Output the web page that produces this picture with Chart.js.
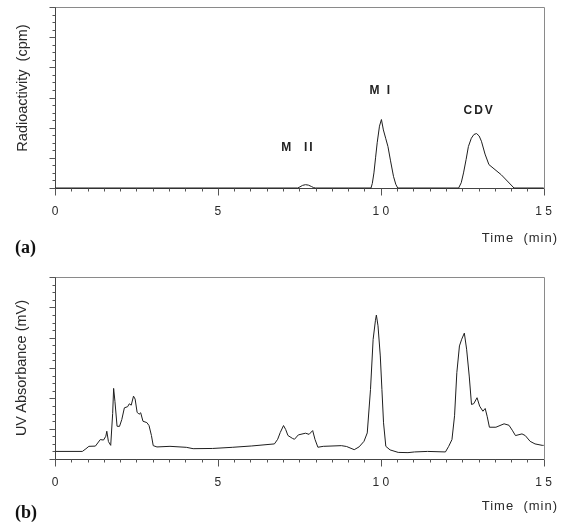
<!DOCTYPE html>
<html><head><meta charset="utf-8">
<script src="https://cdn.jsdelivr.net/npm/chart.js@4.4.1/dist/chart.umd.min.js"></script>
<style>
html,body{margin:0;padding:0;background:#fff}
#page{position:relative;width:568px;height:522px;overflow:hidden;background:#fff}
canvas{position:absolute;left:0}
.t{position:absolute;font-family:"Liberation Sans",Arial,Helvetica,sans-serif;color:#2a2a2a;white-space:pre;line-height:18px;height:18px}
.yt{width:220px;text-align:center;font-size:14.5px;transform:rotate(-90deg)}
.xt{font-size:13px;letter-spacing:1px;text-align:right}
.pl{position:absolute;font-family:"Liberation Serif","Times New Roman",serif;font-weight:bold;font-size:18px;line-height:22px;color:#111}
</style></head><body>
<div id="page">
<canvas id="cA" width="568" height="260" style="top:0"></canvas>
<canvas id="cB" width="568" height="262" style="top:260px"></canvas>
<div class="t yt" style="left:-88px;top:79px">Radioactivity  (cpm)</div>
<div class="t yt" style="left:-89px;top:359px">UV Absorbance (mV)</div>
<div class="t xt" style="right:10px;top:229px">Time  (min)</div>
<div class="t xt" style="right:10px;top:497px">Time  (min)</div>
<div class="pl" style="left:15px;top:236px">(a)</div>
<div class="pl" style="left:15px;top:501px">(b)</div>
</div>
<script>
// ---- Data: panel (a) radioactivity trace (arbitrary units) ----
const timesA = [0, 7.45, 7.52, 7.6, 7.69, 7.78, 7.87, 7.94, 8.0,
  9.7, 9.74, 9.79, 9.84, 9.89, 9.96, 10.02, 10.08, 10.15, 10.22, 10.3, 10.39, 10.46, 10.52,
  12.39, 12.47, 12.54, 12.62, 12.69, 12.78, 12.86, 12.94, 13.02, 13.09, 13.2, 13.32, 13.7, 14.09, 15];
const radioactivity = [0, 0, 0.15, 0.35, 0.44, 0.38, 0.2, 0.05, 0,
  0, 0.6, 2.0, 4.0, 6.0, 8.2, 9.08, 7.7, 6.6, 5.5, 3.6, 1.55, 0.5, 0,
  0, 0.7, 2.0, 3.8, 5.5, 6.6, 7.1, 7.22, 6.9, 6.2, 4.5, 3.1, 1.75, 0, 0];

// ---- Data: panel (b) UV absorbance trace (arbitrary units) ----
const timesB = [0.0, 0.84, 0.95, 1.04, 1.24, 1.39, 1.49, 1.56, 1.59, 1.64, 1.71, 1.77, 1.80, 1.84, 1.905,
  1.98, 2.05, 2.13, 2.23, 2.28, 2.34, 2.41, 2.46, 2.52, 2.58, 2.63, 2.70, 2.82, 2.886, 2.96, 3.015,
  3.13, 3.53, 4.03, 4.24, 4.84, 5.44, 6.04, 6.735, 6.835, 6.915, 7.015, 7.08, 7.15, 7.285, 7.35,
  7.47, 7.69, 7.8, 7.91, 7.98, 8.07, 8.235, 8.79, 8.95, 9.185, 9.335, 9.485, 9.585, 9.685, 9.765,
  9.835, 9.865, 9.915, 9.985, 10.035, 10.085, 10.155, 10.285, 10.535, 10.835, 11.035, 11.435, 11.985,
  12.085, 12.185, 12.265, 12.335, 12.415, 12.485, 12.565, 12.635, 12.715, 12.785, 12.855, 12.955,
  13.035, 13.135, 13.205, 13.265, 13.335, 13.535, 13.785, 13.935, 14.035, 14.135, 14.335, 14.435,
  14.585, 14.735, 14.955, 15.0];
const uvAbsorbance = [1.0, 1.0, 1.35, 1.67, 1.7, 2.56, 2.5, 3.0, 3.66, 2.3, 1.8, 6.0, 9.31, 7.6, 4.32,
  4.3, 5.2, 6.75, 6.9, 7.28, 7.1, 8.29, 7.9, 6.17, 5.9, 6.1, 4.98, 4.8, 4.41, 3.1, 1.76,
  1.59, 1.67, 1.54, 1.36, 1.39, 1.54, 1.72, 1.99, 2.6, 3.5, 4.41, 3.9, 3.1, 2.73, 2.6,
  3.18, 3.4, 3.25, 3.75, 2.6, 1.55, 1.67, 1.76, 1.65, 1.23, 1.6, 2.33, 3.44, 9.18, 15.76,
  18.23, 18.98, 17.56, 13.59, 9.18, 4.77, 1.67, 1.2, 0.87, 0.84, 0.93, 1.0, 0.93,
  1.67, 2.56, 5.7, 11.39, 14.91, 15.8, 16.6, 14.48, 10.94, 7.19, 7.3, 8.08,
  6.97, 6.3, 6.66, 5.64, 4.19, 4.19, 4.64, 4.45, 3.8, 3.09, 3.31, 3.09,
  2.33, 1.99, 1.8, 1.8];

// ---- Axis ticks ----
const majorTimes = [0, 5, 10, 15];
const majorTickLabels = ["0", "5", "1 0", "1 5"];

// ---- Peak annotations in panel (a) ----
const peakNames = ["M  II", "M I", "CDV"];
const peakTimes = [7.46, 10.0, 13.02];
const peakLevels = [5.3, 12.9, 10.2];

const FONT = '"Liberation Sans", Arial, Helvetica, sans-serif';

const frameTicks = {
  id: 'frameTicks',
  afterDraw(chart) {
    const {ctx, chartArea: a, scales: {x, y}} = chart;
    const L = Math.round(a.left) + 0.5, R = Math.round(a.right) + 0.5;
    const T = Math.round(a.top) + 0.5, B = Math.round(a.bottom) + 0.5;
    ctx.save();
    ctx.lineWidth = 1;
    ctx.strokeStyle = '#8a8a8a';
    ctx.beginPath();
    ctx.moveTo(L, T); ctx.lineTo(R, T); ctx.lineTo(R, B);
    ctx.stroke();
    ctx.strokeStyle = '#555';
    ctx.beginPath();
    x.ticks.forEach(t => {
      const px = Math.round(x.getPixelForValue(t.value)) + 0.5;
      const major = majorTimes.some(m => Math.abs(m - t.value) < 1e-6);
      ctx.moveTo(px, B); ctx.lineTo(px, B + (major ? 7 : 3));
    });
    y.ticks.forEach(t => {
      const py = Math.round(y.getPixelForValue(t.value)) + 0.5;
      const major = Math.round(t.value) % 4 === 0;
      ctx.moveTo(L, py); ctx.lineTo(L - (major ? 6 : 3), py);
    });
    ctx.stroke();
    ctx.restore();
  }
};

const peakLabels = {
  id: 'peakLabels',
  afterDatasetsDraw(chart, args, opts) {
    if (!opts || !opts.show) return;
    const {ctx, scales: {x, y}} = chart;
    ctx.save();
    ctx.font = 'bold 12px ' + FONT;
    if ('letterSpacing' in ctx) ctx.letterSpacing = '2px';
    ctx.fillStyle = '#222';
    ctx.textAlign = 'center';
    ctx.textBaseline = 'middle';
    peakNames.forEach((n, i) => {
      ctx.fillText(n, x.getPixelForValue(peakTimes[i]), y.getPixelForValue(peakLevels[i]));
    });
    ctx.restore();
  }
};

function makeChart(id, times, values, padTop, xHeight, showPeaks) {
  return new Chart(document.getElementById(id), {
    type: 'line',
    data: {
      datasets: [{
        data: times.map((t, i) => ({x: t, y: values[i]})),
        borderColor: '#1e1e1e',
        borderWidth: 1,
        pointRadius: 0,
        tension: 0,
        fill: false,
        clip: 4
      }]
    },
    options: {
      responsive: false,
      animation: false,
      events: [],
      layout: {padding: {left: 0, right: 12, top: padTop, bottom: 0}},
      plugins: {legend: {display: false}, tooltip: {enabled: false}, peakLabels: {show: showPeaks}},
      scales: {
        x: {
          type: 'linear', min: 0, max: 15,
          grid: {display: false, drawTicks: false},
          border: {display: true, color: '#444', width: 1},
          ticks: {
            stepSize: 0.5, maxTicksLimit: 100, autoSkip: false, maxRotation: 0, padding: 16,
            color: '#2a2a2a', font: {family: FONT, size: 12},
            callback: (v) => {
              const k = majorTimes.findIndex(m => Math.abs(m - v) < 1e-6);
              return k >= 0 ? majorTickLabels[k] : '';
            }
          },
          afterFit: (s) => { s.height = xHeight; }
        },
        y: {
          type: 'linear', min: 0, max: 24,
          grid: {display: false, drawTicks: false},
          border: {display: true, color: '#444', width: 1},
          ticks: {stepSize: 1, maxTicksLimit: 100, display: false},
          afterFit: (s) => { s.width = 55; }
        }
      }
    },
    plugins: [frameTicks, peakLabels]
  });
}

makeChart('cA', timesA, radioactivity, 7, 72, true);
makeChart('cB', timesB, uvAbsorbance, 17, 63, false);
</script>
</body></html>
